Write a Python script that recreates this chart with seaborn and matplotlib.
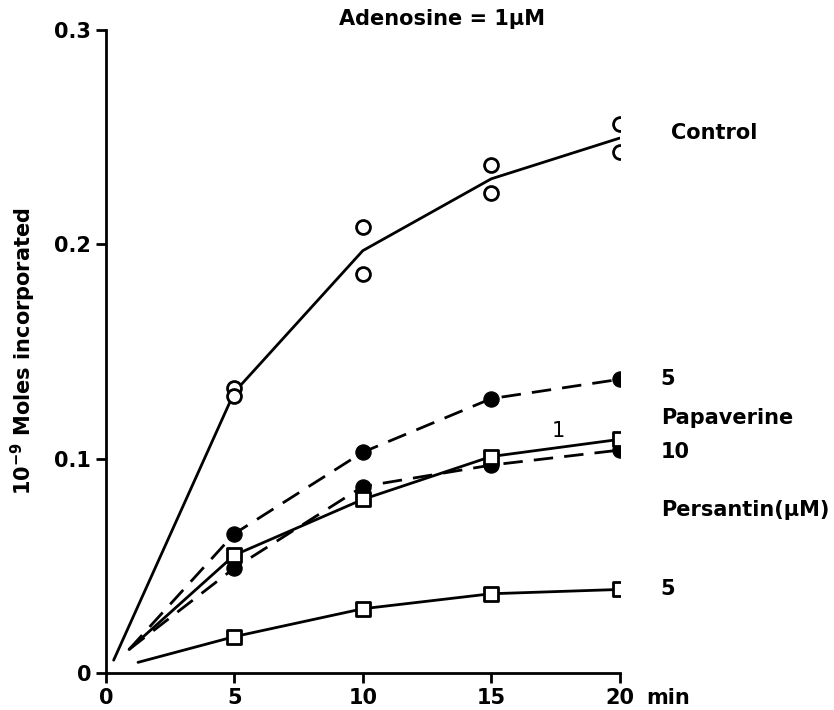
import numpy as np
import pandas as pd
import matplotlib
matplotlib.use("Agg")
import matplotlib.pyplot as plt
import seaborn as sns

# --- data (min, 10^-9 moles) ---
time = [5, 10, 15, 20]
control_a = [0.133, 0.208, 0.237, 0.256]   # duplicate determinations
control_b = [0.129, 0.186, 0.224, 0.243]
papaverine_5 = [0.065, 0.103, 0.128, 0.137]
papaverine_10 = [0.049, 0.087, 0.097, 0.104]
persantin_1 = [0.055, 0.081, 0.101, 0.109]
persantin_5 = [0.017, 0.030, 0.037, 0.039]

# where each hand-drawn line starts near the origin (time, value)
start_control = (0.3, 0.006)
start_common = (0.9, 0.011)
start_pers5 = (1.25, 0.005)

y_ticks = [0, 0.1, 0.2, 0.3]
y_ticklabels = ["0", "0.1", "0.2", "0.3"]
x_ticks = [0, 5, 10, 15, 20]

sns.set_style("ticks")
plt.rcParams["font.family"] = ["DejaVu Sans"]
plt.rcParams["font.weight"] = "bold"
for key in ("text.color", "axes.labelcolor", "xtick.color", "ytick.color",
            "axes.edgecolor"):
    plt.rcParams[key] = "black"

fig = plt.figure(figsize=(8.34, 7.10), dpi=100)
ax = fig.add_axes([0.127, 0.052, 0.616, 0.906])


def with_start(start, values):
    return pd.DataFrame({"t": [start[0]] + time, "v": [start[1]] + list(values)})


lw = 2.0
control_mean = np.mean([control_a, control_b], axis=0)
sns.lineplot(data=with_start(start_control, control_mean), x="t", y="v",
             color="black", lw=lw, ax=ax)
for reps in (control_a, control_b):
    sns.scatterplot(x=time, y=reps, marker="o", s=100, facecolor="white",
                    edgecolor="black", linewidth=2, ax=ax, zorder=5)

for vals in (papaverine_5, papaverine_10):
    sns.lineplot(data=with_start(start_common, vals), x="t", y="v",
                 color="black", lw=lw, ax=ax, dashes=False)
    ax.lines[-1].set_dashes([7, 4])
    sns.scatterplot(x=time, y=vals, marker="o", s=120, color="black",
                    edgecolor="black", ax=ax, zorder=5)

sns.lineplot(data=with_start(start_common, persantin_1), x="t", y="v",
             color="black", lw=lw, ax=ax)
sns.lineplot(data=with_start(start_pers5, persantin_5), x="t", y="v",
             color="black", lw=lw, ax=ax)
for vals in (persantin_1, persantin_5):
    sns.scatterplot(x=time, y=vals, marker="s", s=100, facecolor="white",
                    edgecolor="black", linewidth=2, ax=ax, zorder=5)

ax.set_xlim(0, 20)
ax.set_ylim(0, 0.3)
ax.set_xticks(x_ticks)
ax.set_yticks(y_ticks)
ax.set_yticklabels(y_ticklabels)
ax.tick_params(labelsize=15, width=2, length=7, direction="out")
for side in ("left", "bottom"):
    ax.spines[side].set_linewidth(2)
sns.despine(ax=ax)
ax.set_xlabel("")
ax.set_ylabel(r"10$^{\mathbf{-9}}$ Moles incorporated", fontsize=15,
              fontweight="bold", labelpad=12)

# annotations
tkw = dict(fontsize=15, fontweight="bold", va="center", ha="left")
ax.text(13.1, 0.305, "Adenosine = 1μM", ha="center", va="center",
        fontsize=15, fontweight="bold", clip_on=False)
ax.text(22.0, 0.252, "Control", **tkw)
ax.text(21.6, 0.137, "5", **tkw)
ax.text(21.6, 0.119, "Papaverine", **tkw)
ax.text(17.6, 0.113, "1", fontsize=15, fontweight="normal", va="center",
        ha="center")
ax.text(21.6, 0.103, "10", **tkw)
ax.text(21.6, 0.076, "Persantin(μM)", **tkw)
ax.text(21.6, 0.039, "5", **tkw)
ax.annotate("min", xy=(20, 0), xytext=(19, -10.5), textcoords="offset points",
            fontsize=15, fontweight="bold", va="top", ha="left",
            annotation_clip=False)

fig.savefig("out.png", dpi=100)
